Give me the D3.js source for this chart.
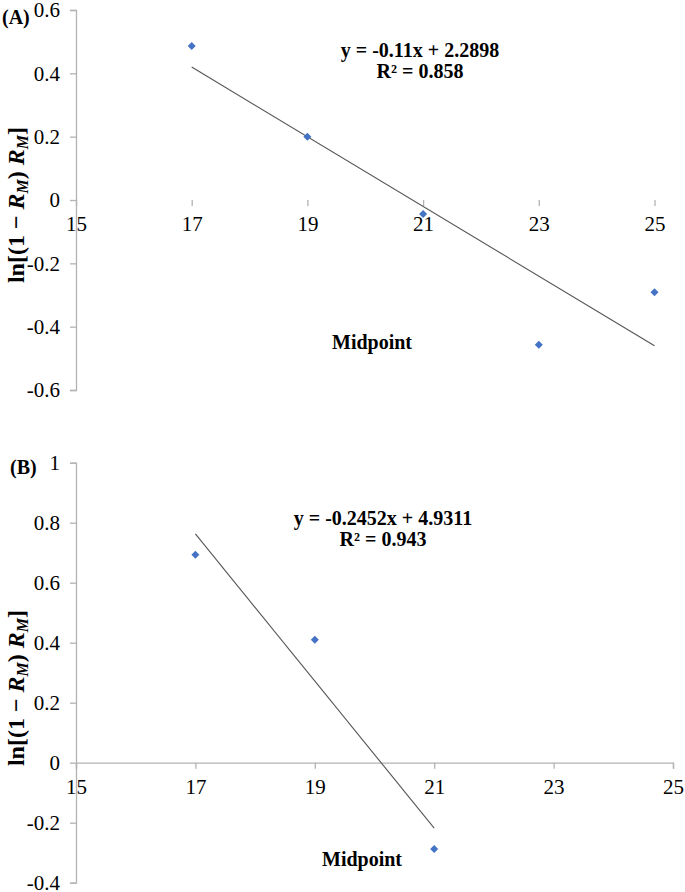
<!DOCTYPE html>
<html>
<head>
<meta charset="utf-8">
<script src="https://cdn.jsdelivr.net/npm/d3@7"></script>
<style>
  html, body { margin: 0; padding: 0; background: #fff; }
  svg { display: block; }
</style>
</head>
<body>
<svg id="chart" width="685" height="892"></svg>
<script>
// ---- Data ----
const xTicks = [15, 17, 19, 21, 23, 25];

const midpointA = [17, 19, 21, 23, 25];
const lnA = [0.486, 0.200, -0.044, -0.457, -0.291];
const yTicksA = [-0.6, -0.4, -0.2, 0, 0.2, 0.4, 0.6];
const fitA = [-0.11, 2.2898];   // slope, intercept
const eqA = ["y = -0.11x + 2.2898", "R² = 0.858"];

const midpointB = [17, 19, 21];
const lnB = [0.693, 0.410, -0.288];
const yTicksB = [-0.4, -0.2, 0, 0.2, 0.4, 0.6, 0.8, 1];
const fitB = [-0.2452, 4.9311];
const eqB = ["y = -0.2452x + 4.9311", "R² = 0.943"];

const svg = d3.select("#chart");
const AXIS = "#b3b3b3";
const PT = "#4472c4";

function styleText(sel, size, bold) {
  sel.attr("font-family", null)
     .style("font-family", '"Liberation Serif", "Times New Roman", serif')
     .style("font-size", size + "px")
     .style("font-weight", bold ? "bold" : "normal")
     .attr("fill", "#000");
}

function panel(cfg) {
  const x = d3.scaleLinear().domain([15, 25]).range([76, cfg.xRight]);
  const y = d3.scaleLinear().domain([cfg.yTicks[0], cfg.yTicks[cfg.yTicks.length - 1]])
              .range([cfg.yBottom, cfg.yTop]);
  const g = svg.append("g");

  // y axis
  const ya = g.append("g").attr("transform", `translate(${x(15)},0)`)
    .call(d3.axisLeft(y).tickValues(cfg.yTicks).tickSize(6).tickPadding(10)
      .tickFormat(d => String(+d.toFixed(1))));
  ya.attr("font-family", null);
  ya.select(".domain").attr("stroke", AXIS).attr("stroke-width", 1.3);
  ya.selectAll(".tick line").attr("stroke", AXIS).attr("stroke-width", 1.3);
  styleText(ya.selectAll("text"), 21, false);

  // x axis at y=0
  const xa = g.append("g").attr("transform", `translate(0,${y(0)})`)
    .call(d3.axisBottom(x).tickValues(xTicks).tickSize(6).tickPadding(cfg.xPad));
  xa.attr("font-family", null);
  xa.select(".domain").attr("stroke", cfg.showXDomain ? AXIS : "none").attr("stroke-width", 1.3);
  xa.selectAll(".tick line").attr("stroke", AXIS).attr("stroke-width", 1.3);
  styleText(xa.selectAll("text"), 21, false);

  // trendline
  const xs = d3.extent(cfg.xs);
  g.append("line")
    .attr("x1", x(xs[0])).attr("y1", y(cfg.fit[0] * xs[0] + cfg.fit[1]))
    .attr("x2", x(xs[1])).attr("y2", y(cfg.fit[0] * xs[1] + cfg.fit[1]))
    .attr("stroke", "#555").attr("stroke-width", 1.1);

  // points
  g.selectAll("path.pt").data(cfg.xs.map((v, i) => [v, cfg.ys[i]])).enter()
    .append("path").attr("class", "pt")
    .attr("d", d3.symbol(d3.symbolSquare, 32)())
    .attr("transform", d => `translate(${x(d[0])},${y(d[1])}) rotate(45)`)
    .attr("fill", PT);

  // equation
  const eq = g.append("text").attr("text-anchor", "middle");
  styleText(eq, 20, true);
  eq.append("tspan").attr("x", cfg.eqX).attr("y", cfg.eqY).text(cfg.eq[0]);
  eq.append("tspan").attr("x", cfg.eqX).attr("y", cfg.eqY + 21).text(cfg.eq[1]);

  // x title
  styleText(g.append("text").attr("x", cfg.midX).attr("y", cfg.midY).text("Midpoint"), 20, true);

  // panel letter
  styleText(g.append("text").attr("x", cfg.letX).attr("y", cfg.letY).text(cfg.letter), 20, true);

  // y title
  const yt = g.append("text").attr("text-anchor", "middle")
    .attr("transform", `translate(24,${cfg.ylabY}) rotate(-90)`);
  styleText(yt, 24, true);
  yt.append("tspan").text("ln[(1 − ");
  yt.append("tspan").style("font-style", "italic").text("R");
  yt.append("tspan").style("font-style", "italic").style("font-size", "16px").attr("dy", 4).text("M");
  yt.append("tspan").attr("dy", -4).text(") ");
  yt.append("tspan").style("font-style", "italic").text("R");
  yt.append("tspan").style("font-style", "italic").style("font-size", "16px").attr("dy", 4).text("M");
  yt.append("tspan").attr("dy", -4).text("]");
}

panel({
  xs: midpointA, ys: lnA, yTicks: yTicksA, fit: fitA, eq: eqA,
  xRight: 654.5, yTop: 10, yBottom: 390, showXDomain: false, xPad: 10,
  eqX: 420, eqY: 57, midX: 332, midY: 349, letter: "(A)", letX: 2, letY: 24, ylabY: 205
});

panel({
  xs: midpointB, ys: lnB, yTicks: yTicksB, fit: fitB, eq: eqB,
  xRight: 673, yTop: 462.7, yBottom: 882.7, showXDomain: true, xPad: 10,
  eqX: 383, eqY: 525, midX: 322, midY: 866, letter: "(B)", letX: 10, letY: 474, ylabY: 688
});
</script>
</body>
</html>
